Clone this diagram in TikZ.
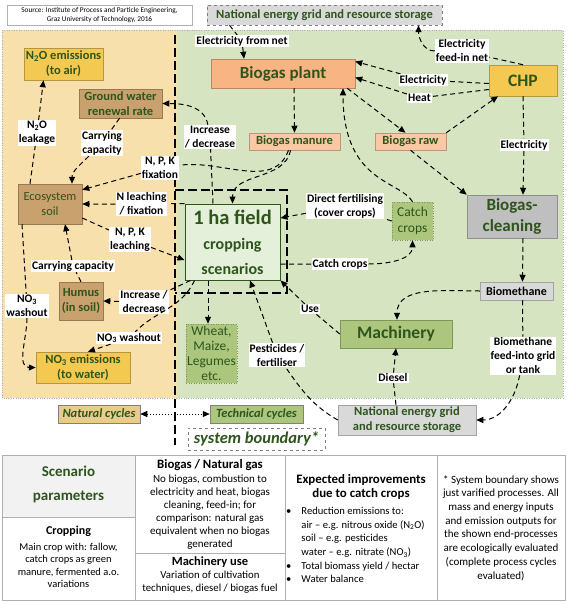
\documentclass[tikz,border=0pt]{standalone}
\usepackage{fontspec}
\setmainfont{Carlito}
\usetikzlibrary{arrows.meta}
\definecolor{dkgreen}{RGB}{45,85,28}
\definecolor{natbg}{RGB}{247,224,172}
\definecolor{natbox}{RGB}{234,204,138}
\definecolor{techbg}{RGB}{214,228,194}
\definecolor{gold}{RGB}{244,201,82}
\definecolor{brownsoil}{RGB}{201,161,110}
\definecolor{plantorange}{RGB}{248,180,130}
\definecolor{salmon}{RGB}{250,200,165}
\definecolor{leaf}{RGB}{172,198,126}
\definecolor{fieldbg}{RGB}{228,240,218}
\definecolor{greybox}{RGB}{191,191,191}
\definecolor{lightgrey}{RGB}{217,217,217}
\definecolor{cellgrey}{RGB}{242,242,242}
\definecolor{rulegrey}{RGB}{175,175,175}
\newcommand{\setfs}[2]{\fontsize{#1}{#2}\selectfont}

\begin{document}
\begin{tikzpicture}[x=1pt,y=-1pt,
    box/.style={draw=#1!75!black, fill=#1, line width=0.5pt, align=center, inner sep=1pt, text=dkgreen, font=\bfseries\setfs{12.5}{15}},
    lbl/.style={fill=white, inner sep=1pt, align=center, font=\bfseries\setfs{11.5}{14}},
    flow/.style={line width=1pt, dash pattern=on 5pt off 3.5pt, -{Triangle[length=7pt,width=6pt]}},
    dotflow/.style={line width=1pt, dotted, {Triangle[length=7pt,width=6pt]}-{Triangle[length=7pt,width=6pt]}},
    boundary/.style={line width=2pt, dash pattern=on 9pt off 4pt},
    cell/.style={align=center, inner sep=0pt, font=\setfs{11}{13}}]
    \useasboundingbox (0,0) rectangle (567,602);

    \fill[natbg] (2,30) rectangle (177,398);
    \fill[techbg] (177,30) rectangle (563,398);
    \draw[rulegrey, dotted] (2,30) rectangle (563,398);
    \draw[boundary] (175,35) -- (175,445);
    \draw[boundary] (175,190) -| (287,293) -- (175,293);

    \node[box=white, draw=rulegrey, text=black, font=\setfs{7.3}{9}, minimum width=185, minimum height=20] (source) at (99.5,15) {Source: Institute of Process and Particle Engineering,\\Graz University of Technology, 2016};
    \node[box=lightgrey, draw=gray, dashed, minimum width=235, minimum height=20] (gridtop) at (324.5,15) {National energy grid and resource storage};

    \node[box=gold, minimum width=79, minimum height=32] (n2o) at (63.5,64) {N\textsubscript{2}O emissions\\(to air)};
    \node[box=brownsoil, minimum width=83, minimum height=29] (groundwater) at (120.5,103.5) {Ground water\\renewal rate};
    \node[box=brownsoil, font=\setfs{12.5}{15}, minimum width=64, minimum height=40] (soil) at (50,204) {Ecosystem\\soil};
    \node[box=brownsoil, minimum width=44, minimum height=38] (humus) at (81,301) {Humus\\(in soil)};
    \node[box=gold, minimum width=94, minimum height=31] (no3) at (83,367.5) {NO\textsubscript{3} emissions\\(to water)};
    \node[box=natbox, draw=gray, font=\bfseries\itshape\setfs{12.5}{14}, minimum width=82, minimum height=18] (natural) at (99,414) {Natural cycles};
    \node[box=leaf, draw=gray, font=\bfseries\itshape\setfs{12.5}{14}, minimum width=93, minimum height=18] (technical) at (256.5,414) {Technical cycles};
    \node[box=white, draw=gray, dashed, font=\bfseries\itshape\setfs{16.5}{18}, minimum width=137, minimum height=22] (sysbound) at (256.5,439) {system boundary*};

    \node[box=plantorange, font=\bfseries\setfs{17}{19}, minimum width=144, minimum height=29] (plant) at (283,73.5) {Biogas plant};
    \node[box=salmon, minimum width=91, minimum height=17] (manure) at (294.5,141.5) {Biogas manure};
    \node[box=salmon, minimum width=71, minimum height=17] (raw) at (410.5,141.5) {Biogas raw};
    \node[box=gold, font=\bfseries\setfs{17.5}{19}, minimum width=68, minimum height=31] (chp) at (523,80.5) {CHP};
    \node[box=greybox, font=\bfseries\setfs{17}{21}, minimum width=90, minimum height=43] (cleaning) at (512,216.5) {Biogas-\\cleaning};
    \node[box=leaf, dotted, font=\setfs{13.5}{16}, minimum width=41, minimum height=38] (catch) at (412.5,221) {Catch\\crops};
    \node[box=lightgrey, text=black, font=\bfseries\setfs{12}{14}, minimum width=73, minimum height=18] (biomethane) at (516.5,291) {Biomethane};
    \node[box=leaf, font=\bfseries\setfs{17.5}{19}, minimum width=112, minimum height=28] (machinery) at (396,334) {Machinery};
    \node[box=leaf, dotted, font=\setfs{13.5}{15}, minimum width=47, minimum height=59] (wheat) at (211.5,353.5) {Wheat,\\Maize,\\Legumes\\etc.};
    \node[box=lightgrey, minimum width=138, minimum height=30] (gridbot) at (407,420) {National energy grid\\and resource storage};
    \node[box=fieldbg, draw=dkgreen, line width=1pt, font=\bfseries\setfs{16}{25}, minimum width=95, minimum height=76] (field) at (232.5,242) {{\setfs{20.5}{22}1 ha field}\\cropping\\scenarios};

    \node[lbl] (efn) at (242,41) {Electricity from net};
    \node[lbl] (feedin) at (462,51) {Electricity\\feed-in net};
    \node[lbl] (elec1) at (423,80) {Electricity};
    \node[lbl] (heat) at (419.5,98) {Heat};
    \node[lbl] (elec2) at (524,145) {Electricity};
    \node[lbl] (incdec1) at (210,137) {Increase\\/ decrease};
    \node[lbl] (npkfix) at (160,168) {N, P, K\\fixation};
    \node[lbl] (nleach) at (141.5,204) {N leaching\\/ fixation};
    \node[lbl] (npkleach) at (130,239.5) {N, P, K\\leaching};
    \node[lbl] (carry1) at (102,143) {Carrying\\capacity};
    \node[lbl] (leak) at (37,133) {N\textsubscript{2}O\\leakage};
    \node[lbl] (carry2) at (73,266) {Carrying capacity};
    \node[lbl] (washout1) at (27,306) {NO\textsubscript{3}\\washout};
    \node[lbl] (incdec2) at (144,302) {Increase /\\decrease};
    \node[lbl] (washout2) at (129,338) {NO\textsubscript{3} washout};
    \node[lbl] (dirfert) at (345,206) {Direct fertilising\\(cover crops)};
    \node[lbl] (catchlbl) at (340,264) {Catch crops};
    \node[lbl] (use) at (310,309) {Use};
    \node[lbl] (pest) at (277,355) {Pesticides /\\fertiliser};
    \node[lbl] (diesel) at (393,378) {Diesel};
    \node[lbl] (feedgrid) at (523,356) {Biomethane\\feed-into grid\\or tank};

    \draw[flow] ([xshift=-95pt]gridtop.south) -- (efn) -- ([xshift=-39pt]plant.north);
    \draw[flow] (chp.north) -- (feedin) to[out=180,in=-90] ([xshift=94pt]gridtop.south);
    \draw[flow] ([yshift=-3pt]chp.west) -- (elec1) -- ([yshift=12pt]plant.east);
    \draw[flow] ([yshift=-9pt]chp.west) -- (heat) -- ([yshift=-4pt]plant.east);
    \draw[flow] ([xshift=-8pt]plant.south east) -- ([xshift=-5pt]raw.north);
    \draw[flow] (raw.north east) -- ([xshift=-25pt]chp.south);
    \draw[flow] (catch.north) to[out=120,in=-90,out distance=25pt,in distance=95pt] ([xshift=60pt]plant.south);
    \draw[flow] ([xshift=11pt]plant.south) -- (manure.north);
    \draw[flow] ([xshift=-4pt]manure.south) to[out=-100,in=90] (field.north);
    \draw[flow] ([xshift=-6pt]manure.south) to[out=-110,in=8] (npkfix) -- ([yshift=-6pt]soil.north east);
    \draw[flow] (field.north west) -- (nleach) -- (soil.east);
    \draw[flow] ([yshift=-14pt]soil.east) -- (npkleach) -- ([yshift=-18pt]field.west);
    \draw[flow] ([xshift=-19.5pt]field.north) -- (incdec1) to[out=100,in=0] (groundwater.east);
    \draw[flow] ([xshift=-1pt]groundwater.south) -- (carry1) to[out=-135,in=90] ([xshift=22pt]soil.north);
    \draw[flow] ([xshift=-20pt]soil.north) -- (leak) -- ([xshift=-20pt]n2o.south);
    \draw[flow] (humus.north) -- (carry2) -- ([xshift=15pt]soil.south);
    \draw[flow] ([xshift=-28pt]soil.south) -- (washout1) to[out=-90,in=180] (no3.west);
    \draw[flow] ([xshift=6pt]field.south west) -- (incdec2) -- (humus.east);
    \draw[flow] ([xshift=10pt]field.south west) to[out=-115,in=45] (washout2) -- ([xshift=5pt]no3.north);
    \draw[flow] ([xshift=-24.5pt]field.south) -- ([xshift=-3.5pt]wheat.north);
    \draw[flow] (gridbot.west) to[out=150,in=-55] (pest) -- ([xshift=17.5pt]field.south);
    \draw[flow] (machinery.west) -- (use) -- (field.south east);
    \draw[flow] ([xshift=-11pt]gridbot.north) -- (diesel) -- (machinery.south);
    \draw[flow] (catch.west) -- (dirfert) -- ([yshift=24pt]field.east);
    \draw[flow] ([yshift=-22pt]field.east) -- (catchlbl) to[out=0,in=-90] (catch.south);
    \draw[flow] (chp.south) -- (elec2) -- ([xshift=11pt]cleaning.north);
    \draw[flow] (raw.south) -- (cleaning.north west);
    \draw[flow] ([xshift=11pt]cleaning.south) -- ([xshift=6pt]biomethane.north);
    \draw[flow] (biomethane.west) to[out=180,in=90] ([xshift=1pt]machinery.north);
    \draw[flow] ([xshift=6pt]biomethane.south) -- (feedgrid) to[out=-100,in=0] (gridbot.east);
    \draw[dotflow] (natural) -- (technical);

    \fill[cellgrey] (2,455) rectangle (135,517);
    \draw[rulegrey] (2,455) rectangle (565,600);
    \draw[rulegrey] (135,455) -- (135,600) (285,455) -- (285,600) (437,455) -- (437,600);
    \draw[rulegrey] (2,517) -- (135,517) (135,553) -- (285,553);

    \node[cell, text=dkgreen, font=\bfseries\setfs{15}{24}] (scenario) at (68.5,484) {Scenario\\parameters};
    \node[cell, font=\setfs{10.5}{12.5}] (cropping) at (68.5,557) {{\bfseries\setfs{12}{13}Cropping}\\[3pt]Main crop with: fallow,\\catch crops as green\\manure, fermented a.o.\\variations};
    \node[cell] (biogas) at (210,504) {{\bfseries\setfs{12.8}{14}Biogas / Natural gas}\\[1pt]No biogas, combustion to\\electricity and heat, biogas\\cleaning, feed-in; for\\comparison: natural gas\\equivalent when no biogas\\generated};
    \node[cell, font=\setfs{10.8}{12.5}] (machuse) at (210,575) {{\bfseries\setfs{12.5}{13}Machinery use}\\[1pt]Variation of cultivation\\techniques, diesel / biogas fuel};
    \node[cell, font=\bfseries\setfs{12.9}{14}] (expected) at (361,487) {Expected improvements\\due to catch crops};
    \node[cell, anchor=north west, font=\setfs{10.6}{13.6}] (improve) at (286,505) {\begin{tabular}{@{}l@{\hspace{10pt}}l@{}}
        \textbullet & Reduction emissions to:\\
        & air -- e.g. nitrous oxide (N\textsubscript{2}O)\\
        & soil -- e.g. pesticides\\
        & water -- e.g. nitrate (NO\textsubscript{3})\\
        \textbullet & Total biomass yield / hectar\\
        \textbullet & Water balance
    \end{tabular}};
    \node[cell, font=\setfs{11}{13.7}] (footnote) at (501,528) {* System boundary shows\\just varified processes. All\\mass and energy inputs\\and emission outputs for\\the shown end-processes\\are ecologically evaluated\\(complete process cycles\\evaluated)};
\end{tikzpicture}
\end{document}
